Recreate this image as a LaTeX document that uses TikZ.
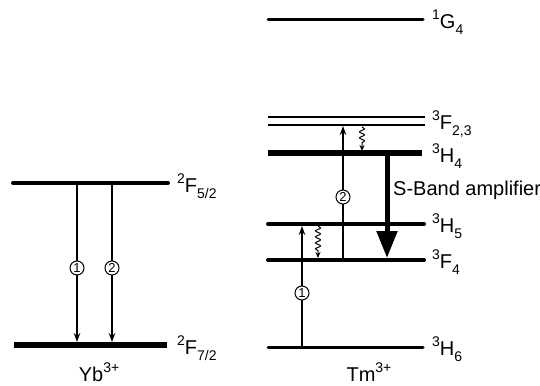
\documentclass[tikz,border=0pt]{standalone}
\usepackage{fontspec}
\setmainfont{Liberation Sans}
\usetikzlibrary{arrows.meta,decorations.pathmorphing}
\newcommand{\trm}[3]{\raisebox{0.48em}{\fontsize{14}{14}\selectfont #1}#2\raisebox{-0.28em}{\fontsize{14}{14}\selectfont #3}}
\begin{document}
\begin{tikzpicture}[x=1pt,y=-1pt,
  lbl/.style={anchor=west, inner sep=0pt, font=\fontsize{20}{20}\selectfont},
  ion/.style={inner sep=0pt, font=\fontsize{20}{20}\selectfont},
  num/.style={circle, draw, fill=white, inner sep=0pt, minimum size=14pt, line width=1pt, font=\fontsize{13}{13}\selectfont},
  thinarrow/.style={line width=1.1pt, -{Stealth[length=9pt,width=6.5pt]}},
  wavy/.style={line width=1pt, decorate, decoration={snake,amplitude=2.5pt,segment length=6pt,post length=6pt}, -{Stealth[length=6pt,width=5pt]}},
  bigarrow/.style={line width=5pt, -{Triangle[width=20pt,length=27pt]}}]
\useasboundingbox (0,0) rectangle (540,385);

% ---- Yb levels
\draw[line width=4pt, line cap=round] (13,183) -- (168,183);
\draw[line width=5.5pt] (14,345) -- (167,345);
\node[lbl] (ybU) at (177,186) {\trm{2}{F}{5/2}};
\node[lbl] (ybL) at (177,348) {\trm{2}{F}{7/2}};
\node[ion] (yb) at (99,372) {Yb\raisebox{0.45em}{\fontsize{14}{14}\selectfont 3+}};

\coordinate (y1s) at (77,185);
\coordinate (y1e) at (77,342);
\coordinate (y2s) at (112,185);
\coordinate (y2e) at (112,342);
\draw[thinarrow] (y1s) -- (y1e);
\draw[thinarrow] (y2s) -- (y2e);
\node[num] (yc1) at (77,268) {1};
\node[num] (yc2) at (112,268) {2};

% ---- Tm levels
\draw[line width=3pt, line cap=round] (268,20) -- (423,20);
\draw[line width=1.5pt] (268,117) -- (425,117);
\draw[line width=1.5pt] (268,125) -- (425,125);
\draw[line width=5.5pt] (268,153) -- (422,153);
\draw[line width=4pt, line cap=round] (268,224) -- (424,224);
\draw[line width=4pt, line cap=round] (268,260) -- (424,260);
\draw[line width=3pt, line cap=round] (268,347) -- (423,347);

\node[lbl] (g4) at (432,22) {\trm{1}{G}{4}};
\node[lbl] (f23) at (432,124) {\trm{3}{F}{2,3}};
\node[lbl] (h4) at (432,156) {\trm{3}{H}{4}};
\node[lbl] (h5) at (432,226) {\trm{3}{H}{5}};
\node[lbl] (f4) at (432,262) {\trm{3}{F}{4}};
\node[lbl] (h6) at (432,349) {\trm{3}{H}{6}};
\node[ion] (tm) at (369,372) {Tm\raisebox{0.45em}{\fontsize{14}{14}\selectfont 3+}};

% absorption arrows
\coordinate (t1s) at (302,347);
\coordinate (t1e) at (302,226);
\coordinate (t2s) at (343,260);
\coordinate (t2e) at (343,126);
\draw[thinarrow] (t1s) -- (t1e);
\draw[thinarrow] (t2s) -- (t2e);
\node[num] (tc1) at (302,293) {1};
\node[num] (tc2) at (343,197) {2};

% non-radiative decays
\coordinate (w1s) at (362,127);
\coordinate (w1e) at (362,151);
\coordinate (w2s) at (318,226);
\coordinate (w2e) at (318,258);
\draw[wavy] (w1s) -- (w1e);
\draw[wavy] (w2s) -- (w2e);

% amplifier transition
\coordinate (bs) at (387,153);
\coordinate (be) at (387,258);
\draw[bigarrow] (bs) -- (be);
\node[lbl] (amp) at (393,190) {S-Band amplifier};
\end{tikzpicture}
\end{document}
